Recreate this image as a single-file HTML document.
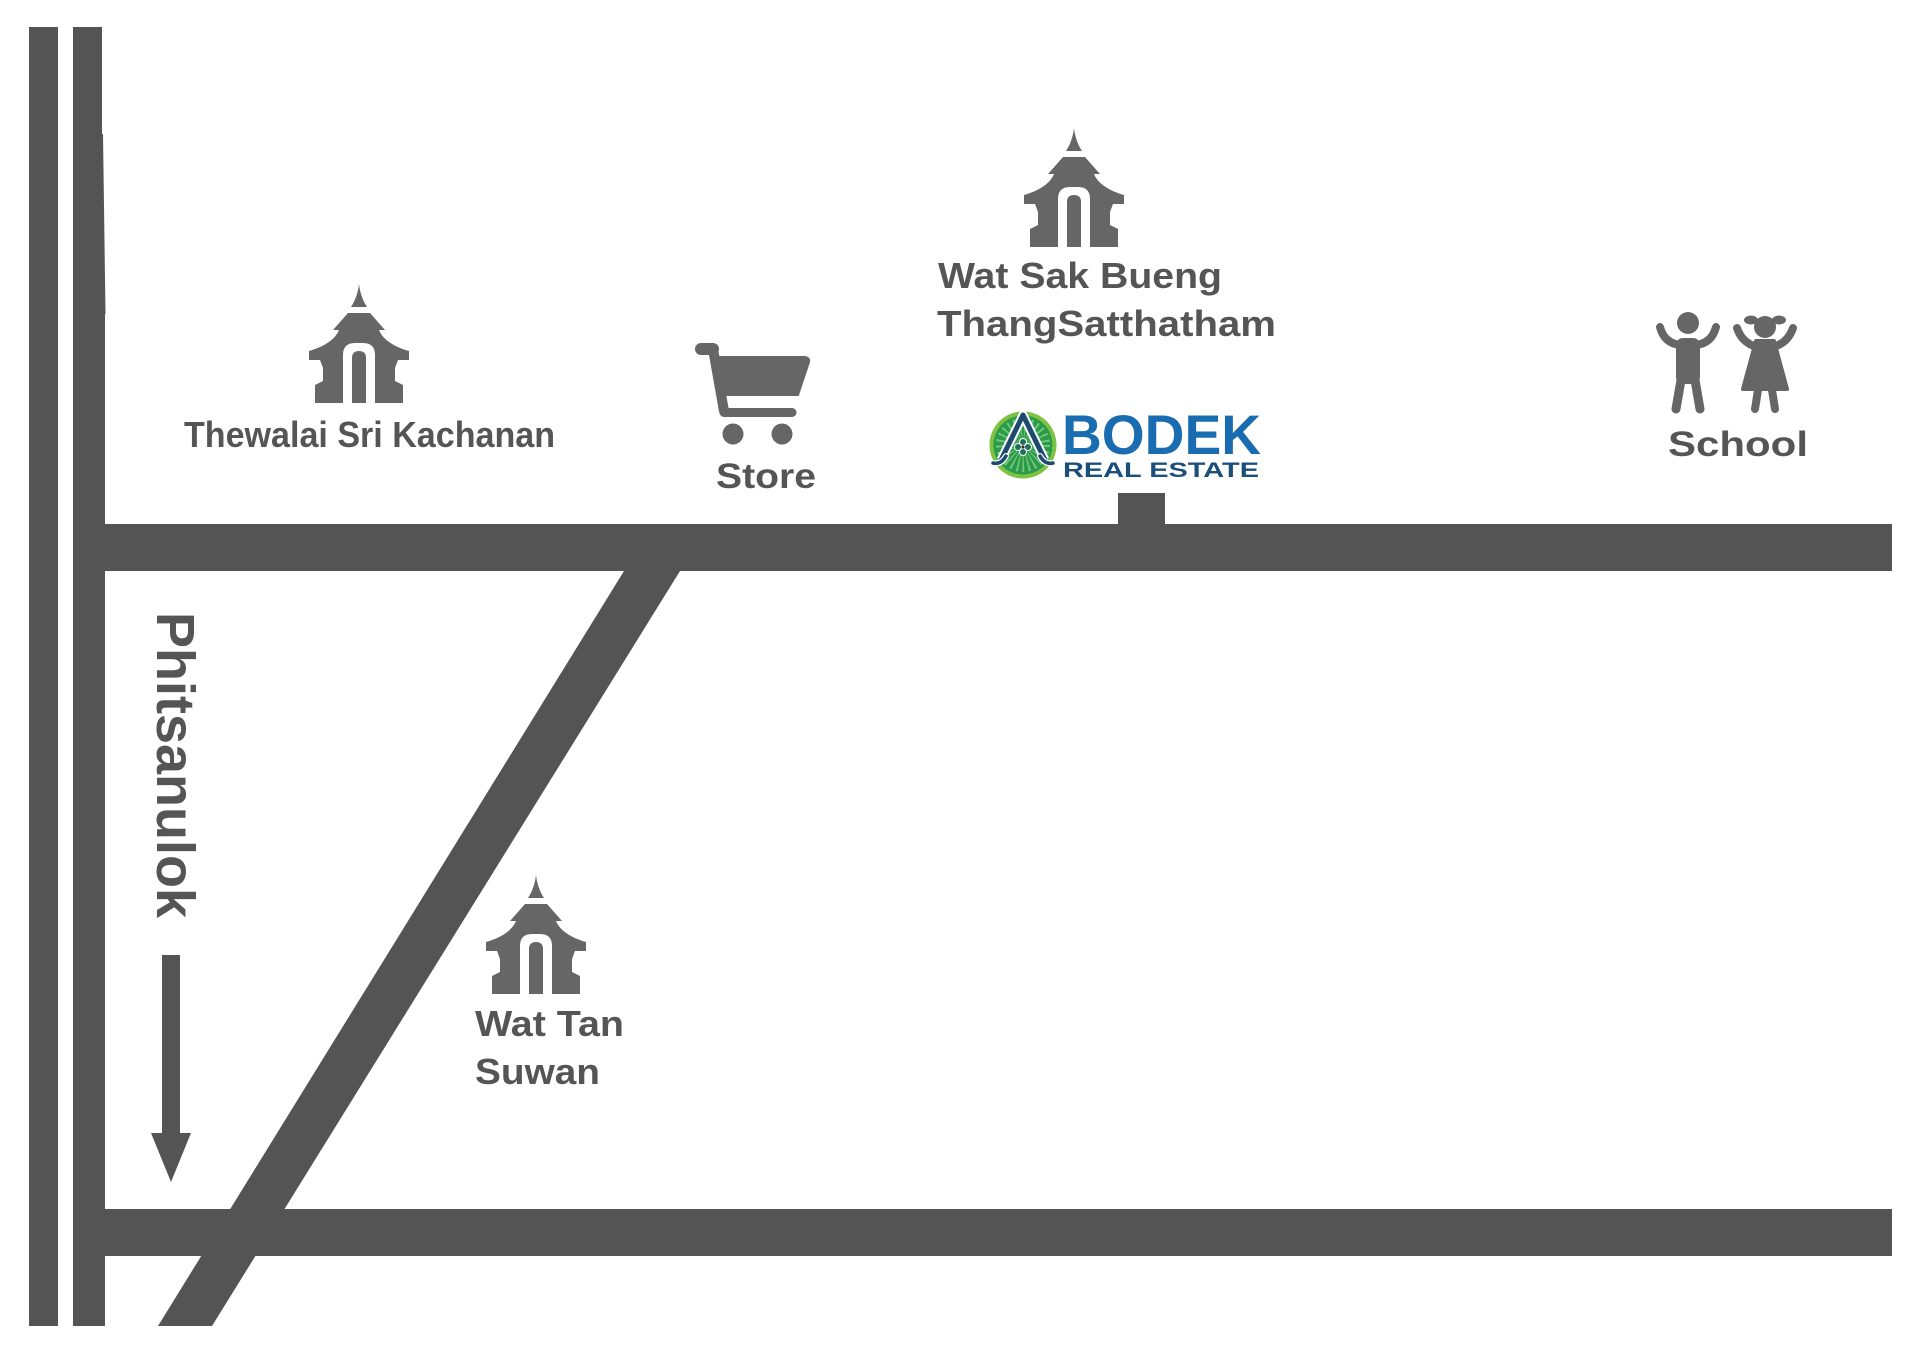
<!DOCTYPE html>
<html>
<head>
<meta charset="utf-8">
<style>
  html,body{margin:0;padding:0;background:#fff;}
  svg{display:block;}
  text{font-family:"Liberation Sans", Arial, sans-serif;font-weight:bold;}
</style>
</head>
<body>
<svg width="1920" height="1352" viewBox="0 0 1920 1352" xmlns="http://www.w3.org/2000/svg">
  <rect x="0" y="0" width="1920" height="1352" fill="#ffffff"/>

  <!-- Roads -->
  <g fill="#545454">
    <rect x="29" y="27" width="29" height="1299"/>
    <polygon points="73,27 102,27 102,134 103,134 105.5,314 105,314 105,1326 73,1326"/>
    <rect x="102" y="524" width="1790" height="47"/>
    <rect x="102" y="1209" width="1790" height="47"/>
    <polygon points="624,571 680,571 212,1326 158,1326"/>
    <rect x="1118" y="493" width="47" height="33"/>
  </g>

  <!-- Temple: Thewalai -->
  <g transform="translate(309,284)" fill="#666666">
    <path d="M50,0 C51,9 54,17 58,23 L42,23 C46,17 49,9 50,0 Z"/>
    <path d="M39,29 L61,29 L76,46 L70,46 C74,56 86,63 100,67 L100,76 L89,76 L86,84 L86,97 L94,101 L94,119 L6,119 L6,101 L14,97 L14,84 L11,76 L0,76 L0,67 C14,63 26,56 30,46 L24,46 Z"/>
    <path d="M34,119 L34,71 Q34,59 46,59 L54,59 Q66,59 66,71 L66,119 Z" fill="#ffffff"/>
    <path d="M43,119 L43,74 Q43,67 50,67 Q57,67 57,74 L57,119 Z"/>
  </g>

  <!-- Temple: Wat Sak Bueng -->
  <g transform="translate(1024,128)" fill="#666666">
    <path d="M50,0 C51,9 54,17 58,23 L42,23 C46,17 49,9 50,0 Z"/>
    <path d="M39,29 L61,29 L76,46 L70,46 C74,56 86,63 100,67 L100,76 L89,76 L86,84 L86,97 L94,101 L94,119 L6,119 L6,101 L14,97 L14,84 L11,76 L0,76 L0,67 C14,63 26,56 30,46 L24,46 Z"/>
    <path d="M34,119 L34,71 Q34,59 46,59 L54,59 Q66,59 66,71 L66,119 Z" fill="#ffffff"/>
    <path d="M43,119 L43,74 Q43,67 50,67 Q57,67 57,74 L57,119 Z"/>
  </g>

  <!-- Temple: Wat Tan Suwan -->
  <g transform="translate(486,875)" fill="#666666">
    <path d="M50,0 C51,9 54,17 58,23 L42,23 C46,17 49,9 50,0 Z"/>
    <path d="M39,29 L61,29 L76,46 L70,46 C74,56 86,63 100,67 L100,76 L89,76 L86,84 L86,97 L94,101 L94,119 L6,119 L6,101 L14,97 L14,84 L11,76 L0,76 L0,67 C14,63 26,56 30,46 L24,46 Z"/>
    <path d="M34,119 L34,71 Q34,59 46,59 L54,59 Q66,59 66,71 L66,119 Z" fill="#ffffff"/>
    <path d="M43,119 L43,74 Q43,67 50,67 Q57,67 57,74 L57,119 Z"/>
  </g>

  <!-- Store cart -->
  <g fill="#666666" stroke="#666666" stroke-linecap="round" stroke-linejoin="round">
    <line x1="701" y1="349" x2="713" y2="349" stroke-width="12"/>
    <line x1="713" y1="349" x2="724" y2="411" stroke-width="10"/>
    <line x1="724" y1="412.5" x2="792" y2="412.5" stroke-width="9"/>
    <path d="M719,357 L805,357 Q810,358 809,362 L798,395 L723,395 Z" stroke-width="2"/>
    <circle cx="733" cy="434" r="10.5" stroke="none"/>
    <circle cx="782" cy="434" r="10.5" stroke="none"/>
  </g>

  <!-- School kids -->
  <g fill="#666666" stroke="#666666" stroke-linecap="round" stroke-linejoin="round">
    <!-- boy -->
    <circle cx="1688" cy="323" r="11" stroke="none"/>
    <rect x="1676" y="338" width="24" height="46" rx="7" stroke="none"/>
    <path d="M1680,345 Q1664,343 1660,327" fill="none" stroke-width="8"/>
    <path d="M1696,345 Q1712,343 1716,327" fill="none" stroke-width="8"/>
    <line x1="1681" y1="380" x2="1676" y2="409" stroke-width="9"/>
    <line x1="1695" y1="380" x2="1700" y2="409" stroke-width="9"/>
    <!-- girl -->
    <circle cx="1765" cy="327" r="11" stroke="none"/>
    <ellipse cx="1751" cy="320" rx="7" ry="4.5" stroke="none"/>
    <ellipse cx="1779" cy="320" rx="7" ry="4.5" stroke="none"/>
    <path d="M1757,347 Q1742,343 1737,328" fill="none" stroke-width="8"/>
    <path d="M1773,347 Q1788,343 1793,328" fill="none" stroke-width="8"/>
    <path d="M1756,341 L1774,341 L1787,389 L1743,389 Z" stroke-width="4"/>
    <line x1="1758" y1="390" x2="1755" y2="409" stroke-width="8"/>
    <line x1="1772" y1="390" x2="1775" y2="409" stroke-width="8"/>
  </g>

  <!-- BODEK logo -->
  <g transform="translate(-3,-1)">
    <circle cx="1026" cy="446" r="33.5" fill="#7dc243"/>
    <circle cx="1026" cy="446" r="29.5" fill="#2a9b4a"/>
    <circle cx="1026" cy="446" r="13.5" fill="none" stroke="#8fd48a" stroke-width="27" stroke-dasharray="1.1 2.3" opacity="0.75"/>
    <path d="M1004,461 L1026,416 L1048,461" fill="none" stroke="#ffffff" stroke-width="9" stroke-linejoin="round"/>
    <path d="M1004,461 L1026,416 L1048,461" fill="none" stroke="#1d4a6e" stroke-width="5" stroke-linejoin="round"/>
    <path d="M996,464 Q1004,466 1009,457" fill="none" stroke="#ffffff" stroke-width="6" stroke-linecap="round"/>
    <path d="M1056,464 Q1048,466 1043,457" fill="none" stroke="#ffffff" stroke-width="6" stroke-linecap="round"/>
    <path d="M996,464 Q1004,466 1009,457" fill="none" stroke="#1d4a6e" stroke-width="3.5" stroke-linecap="round"/>
    <path d="M1056,464 Q1048,466 1043,457" fill="none" stroke="#1d4a6e" stroke-width="3.5" stroke-linecap="round"/>
    <g fill="#1f6f5a" stroke="#ffffff" stroke-width="1">
      <circle cx="1026" cy="443" r="3.5"/>
      <circle cx="1021" cy="448" r="3.5"/>
      <circle cx="1031" cy="448" r="3.5"/>
      <circle cx="1026" cy="453" r="3.5"/>
    </g>
    <circle cx="1026" cy="448" r="1.6" fill="#4a2a1a"/>
  </g>
  <text x="1062" y="454" font-size="56" fill="#1a6cb0" textLength="199" lengthAdjust="spacingAndGlyphs">BODEK</text>
  <text x="1063" y="477" font-size="21" fill="#1b4f7a" textLength="196" lengthAdjust="spacingAndGlyphs">REAL ESTATE</text>

  <!-- Labels -->
  <g fill="#555555">
    <text x="184" y="447" font-size="36" textLength="371" lengthAdjust="spacingAndGlyphs">Thewalai Sri Kachanan</text>
    <text x="716" y="488" font-size="35" textLength="100" lengthAdjust="spacingAndGlyphs">Store</text>
    <text x="1668" y="456" font-size="35" textLength="140" lengthAdjust="spacingAndGlyphs">School</text>
    <text x="938" y="288" font-size="36" textLength="284" lengthAdjust="spacingAndGlyphs">Wat Sak Bueng</text>
    <text x="937" y="336" font-size="36" textLength="339" lengthAdjust="spacingAndGlyphs">ThangSatthatham</text>
    <text x="475" y="1036" font-size="36" textLength="149" lengthAdjust="spacingAndGlyphs">Wat Tan</text>
    <text x="475" y="1084" font-size="36" textLength="125" lengthAdjust="spacingAndGlyphs">Suwan</text>
    <text transform="translate(157,612) rotate(90)" font-size="54" textLength="306" lengthAdjust="spacingAndGlyphs">Phitsanulok</text>
  </g>

  <!-- Arrow -->
  <g fill="#545454">
    <rect x="162" y="955" width="18" height="180"/>
    <polygon points="151,1133 191,1133 171,1182"/>
  </g>
</svg>
</body>
</html>
